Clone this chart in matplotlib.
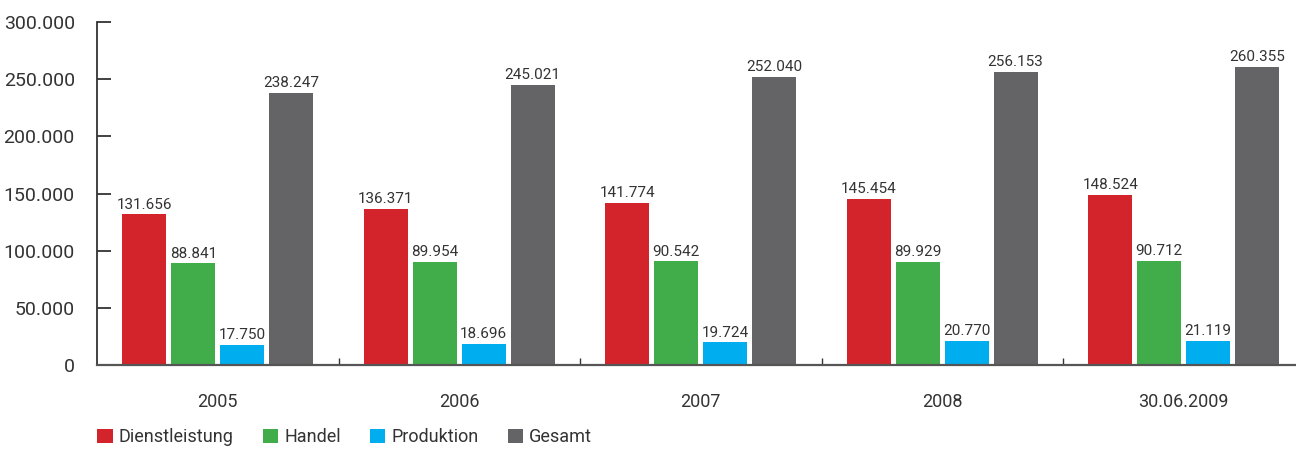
import numpy as np
import matplotlib
matplotlib.use('Agg')
import matplotlib.pyplot as plt
from matplotlib.ticker import FuncFormatter, FixedLocator
from matplotlib.patches import Patch

plt.rcParams['font.family'] = ['Roboto', 'DejaVu Sans']

years = ['2005', '2006', '2007', '2008', '30.06.2009']
series = ['Dienstleistung', 'Handel', 'Produktion', 'Gesamt']
dienstleistung = [131656, 136371, 141774, 145454, 148524]
handel = [88841, 89954, 90542, 89929, 90712]
produktion = [17750, 18696, 19724, 20770, 21119]
gesamt = [238247, 245021, 252040, 256153, 260355]

colors = ['#d3242b', '#41ad4a', '#00aeef', '#646466']
textcol = '#333333'

def de(v):
    return '{:,.0f}'.format(v).replace(',', '.')

fig = plt.figure(figsize=(12.96, 4.49), dpi=100)
ax = fig.add_axes([97/1296, 84/449, 1 - 97/1296, (365-22)/449])

ind = np.arange(len(years))
width = 0.182
step = 0.2025
data = [dienstleistung, handel, produktion, gesamt]
for i, (vals, c) in enumerate(zip(data, colors)):
    xs = ind + (i - 1.5) * step
    ax.bar(xs, vals, width, color=c)
    for x, v in zip(xs, vals):
        ax.text(x, v + 2500, de(v), ha='center', va='bottom', fontsize=11, color=textcol)

ax.set_xlim(-0.5, -0.5 + 1199/241.5)
ax.set_ylim(0, 300000)
ax.set_yticks(np.arange(0, 300001, 50000))
ax.yaxis.set_major_formatter(FuncFormatter(lambda v, p: de(v)))
ax.set_xticks(ind)
ax.set_xticklabels(years)
ax.xaxis.set_minor_locator(FixedLocator(ind[1:] - 0.5))

for s in ['top', 'right']:
    ax.spines[s].set_visible(False)
ax.spines['left'].set_color('#333333')
ax.spines['left'].set_linewidth(1.3)
ax.spines['bottom'].set_color('#555555')
ax.spines['bottom'].set_linewidth(1.6)

ax.tick_params(axis='y', direction='in', length=10, width=1.3, color='#333333',
               pad=16, labelsize=14, labelcolor=textcol)
ax.tick_params(axis='x', which='major', length=0, pad=20, labelsize=13, labelcolor=textcol)
ax.tick_params(axis='x', which='minor', direction='in', length=5, width=1, color='#333333')

handles = [Patch(facecolor=c, edgecolor='none') for c in colors]
fig.legend(handles, series, loc='center left', bbox_to_anchor=(81/1296, 12/449), ncol=4,
           frameon=False, fontsize=13, handlelength=0.85, handleheight=0.85,
           handletextpad=0.35, columnspacing=1.6, labelcolor=textcol)

fig.savefig('out.png', dpi=100)
